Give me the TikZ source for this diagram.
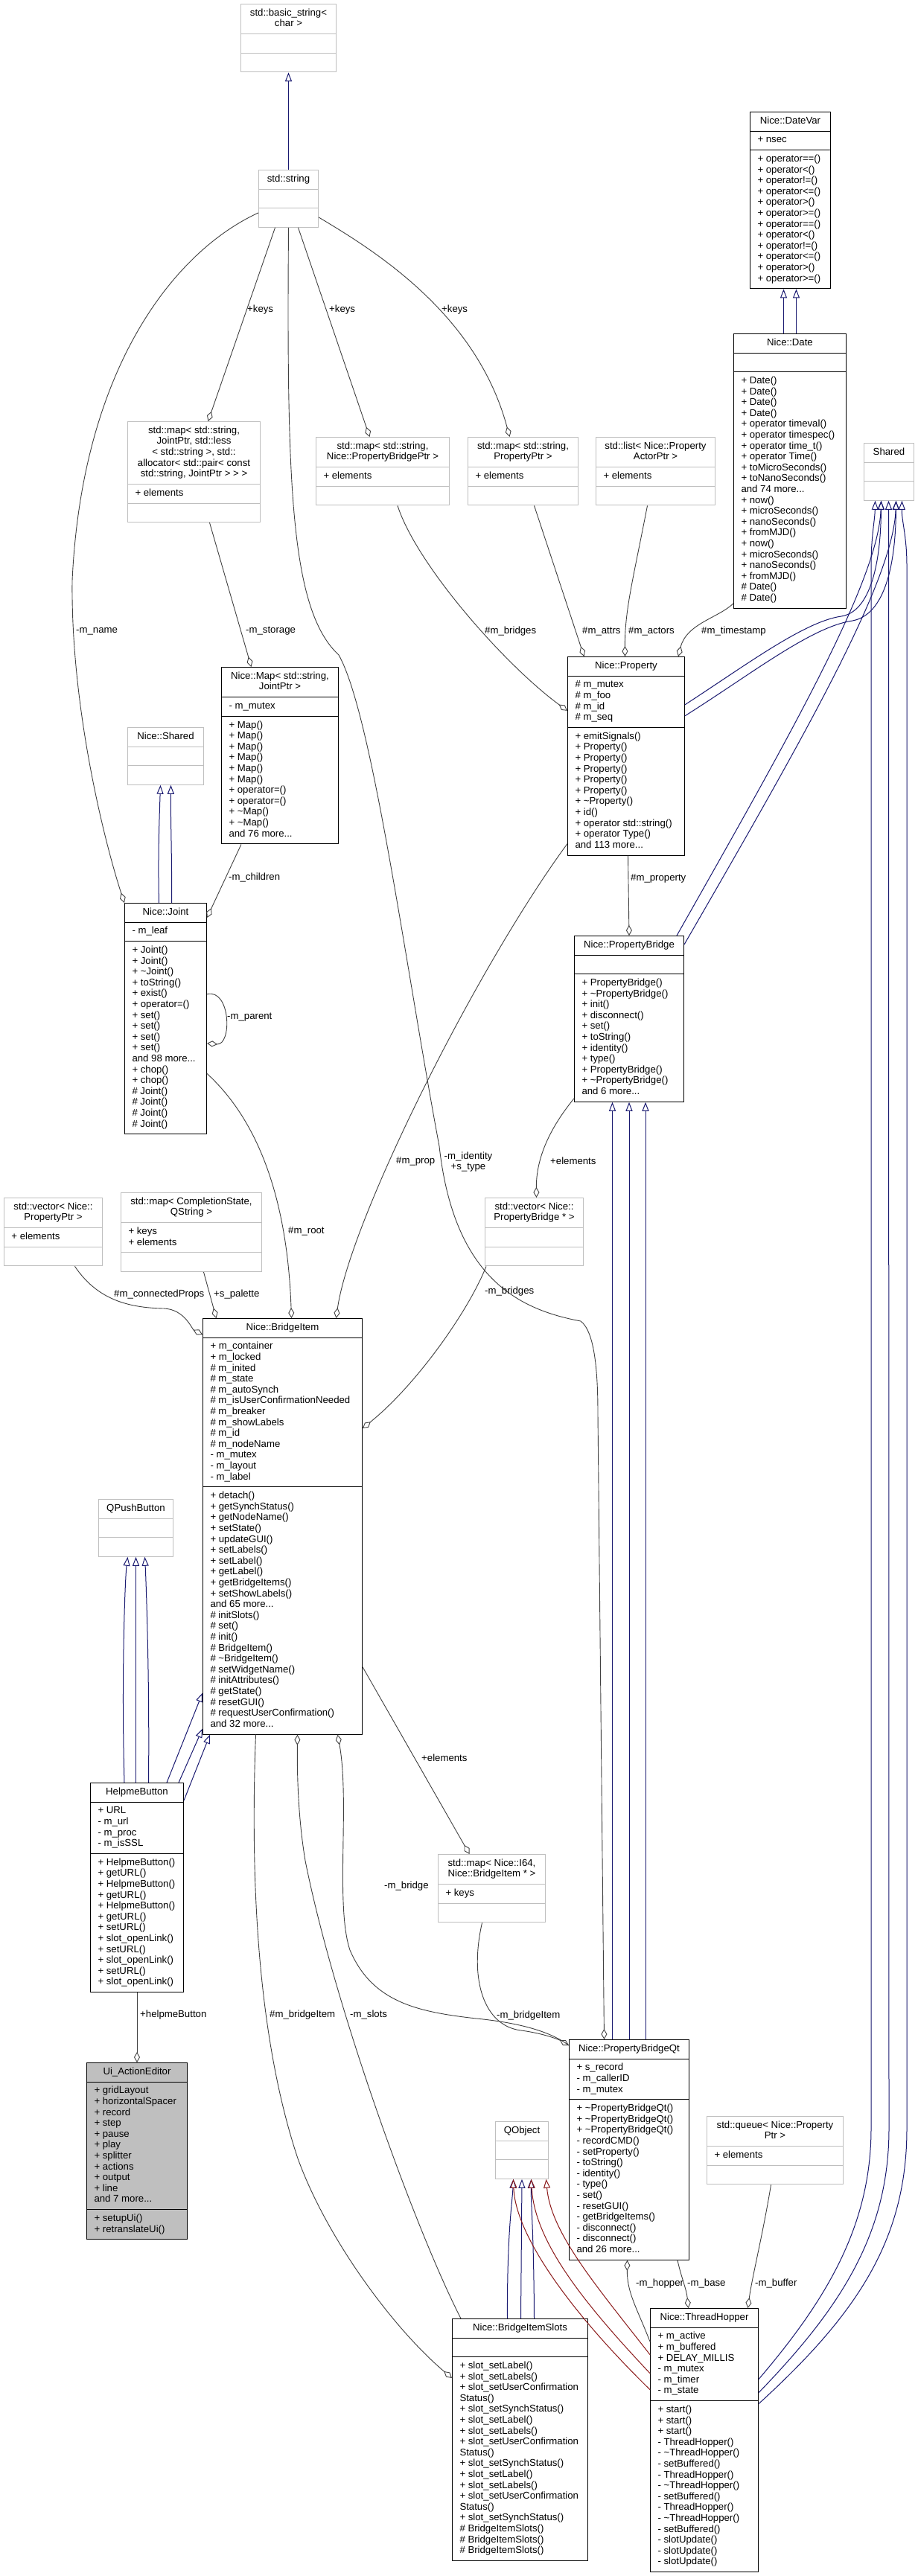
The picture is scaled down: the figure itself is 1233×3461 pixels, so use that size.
\documentclass[tikz,border=0pt]{standalone}
\usepackage{fontspec}
\setmainfont{Liberation Sans}
\usetikzlibrary{arrows.meta,shapes.multipart}
\definecolor{InhBlue}{HTML}{191970}
\definecolor{InhRed}{HTML}{8B1A1A}
\definecolor{UseGray}{HTML}{404040}
\definecolor{ExtGray}{HTML}{BFBFBF}
\newcommand{\cls}[1]{\begin{tabular}{@{}c@{}}#1\end{tabular}}
\newcommand{\mem}[1]{\begin{tabular}{@{}l@{}}#1\end{tabular}}

\begin{document}
\begin{tikzpicture}[
    x=1pt, y=-1pt,
    box/.style={rectangle split, rectangle split parts=3, draw=black, line width=1pt, fill=white,
        anchor=north west, inner xsep=10pt, inner ysep=5pt,
        rectangle split part align={center,left,left},
        rectangle split empty part height=10.22pt, rectangle split empty part depth=4.38pt,
        font=\fontsize{13.2}{14.6}\selectfont},
    ext/.style={box, draw=ExtGray},
    lbl/.style={font=\fontsize{13.2}{14.6}\selectfont, inner sep=0pt, anchor=west},
    inh/.style={draw=InhBlue, line width=1pt, -{Triangle[open, length=12pt, width=9pt]}},
    inhp/.style={inh, draw=InhRed},
    use/.style={draw=UseGray, line width=0.9pt, -{Diamond[open, length=14pt, width=8pt]}}
]
\useasboundingbox (0,0) rectangle (1233,3461);

% classes
\node[ext, minimum width=128pt] (bstr) at (323,5) {\cls{std::basic\_string<\\char >}};
\node[ext, minimum width=80pt] (str) at (347,228) {\cls{std::string}};
\node[box, minimum width=108pt] (datevar) at (1007,150) {\cls{Nice::DateVar}
    \nodepart{two}\mem{+ nsec}
    \nodepart{three}\mem{+ operator==()\\+ operator<()\\+ operator!=()\\+ operator<=()\\+ operator>()\\+ operator>=()\\+ operator==()\\+ operator<()\\+ operator!=()\\+ operator<=()\\+ operator>()\\+ operator>=()}};
\node[box, minimum width=151pt] (date) at (985,448) {\cls{Nice::Date}
    \nodepart{three}\mem{+ Date()\\+ Date()\\+ Date()\\+ Date()\\+ operator timeval()\\+ operator timespec()\\+ operator time\_t()\\+ operator Time()\\+ toMicroSeconds()\\+ toNanoSeconds()\\and 74 more...\\+ now()\\+ microSeconds()\\+ nanoSeconds()\\+ fromMJD()\\+ now()\\+ microSeconds()\\+ nanoSeconds()\\+ fromMJD()\\\# Date()\\\# Date()}};
\node[ext, minimum width=67pt] (shared) at (1160,595) {\cls{Shared}};
\node[ext, minimum width=178pt] (mapjoint) at (171,566) {\cls{std::map< std::string,\\ JointPtr, std::less\\< std::string >, std::\\allocator< std::pair< const\\ std::string, JointPtr > > >}
    \nodepart{two}\mem{+ elements}};
\node[ext, minimum width=179pt] (mappb) at (424,587) {\cls{std::map< std::string,\\ Nice::PropertyBridgePtr >}
    \nodepart{two}\mem{+ elements}};
\node[ext, minimum width=148pt] (mapprop) at (628,587) {\cls{std::map< std::string,\\ PropertyPtr >}
    \nodepart{two}\mem{+ elements}};
\node[ext, minimum width=160pt] (listact) at (800,587) {\cls{std::list< Nice::Property\\ActorPtr >}
    \nodepart{two}\mem{+ elements}};
\node[box, minimum width=157pt] (map) at (297,896) {\cls{Nice::Map< std::string,\\ JointPtr >}
    \nodepart{two}\mem{- m\_mutex}
    \nodepart{three}\mem{+ Map()\\+ Map()\\+ Map()\\+ Map()\\+ Map()\\+ Map()\\+ operator=()\\+ operator=()\\+ \textasciitilde Map()\\+ \textasciitilde Map()\\and 76 more...}};
\node[ext, minimum width=102pt] (nshared) at (171,977) {\cls{Nice::Shared}};
\node[box, minimum width=110pt] (joint) at (167,1213) {\cls{Nice::Joint}
    \nodepart{two}\mem{- m\_leaf}
    \nodepart{three}\mem{+ Joint()\\+ Joint()\\+ \textasciitilde Joint()\\+ toString()\\+ exist()\\+ operator=()\\+ set()\\+ set()\\+ set()\\+ set()\\and 98 more...\\+ chop()\\+ chop()\\\# Joint()\\\# Joint()\\\# Joint()\\\# Joint()}};
\node[box, minimum width=157pt] (prop) at (762,882) {\cls{Nice::Property}
    \nodepart{two}\mem{\# m\_mutex\\\# m\_foo\\\# m\_id\\\# m\_seq}
    \nodepart{three}\mem{+ emitSignals()\\+ Property()\\+ Property()\\+ Property()\\+ Property()\\+ Property()\\+ \textasciitilde Property()\\+ id()\\+ operator std::string()\\+ operator Type()\\and 113 more...}};
\node[box, minimum width=147pt] (pbridge) at (771,1257) {\cls{Nice::PropertyBridge}
    \nodepart{three}\mem{+ PropertyBridge()\\+ \textasciitilde PropertyBridge()\\+ init()\\+ disconnect()\\+ set()\\+ toString()\\+ identity()\\+ type()\\+ PropertyBridge()\\+ \textasciitilde PropertyBridge()\\and 6 more...}};
\node[ext, minimum width=132pt] (vecpb) at (651,1609) {\cls{std::vector< Nice::\\PropertyBridge * >}};
\node[ext, minimum width=132pt] (vecprop) at (5,1609) {\cls{std::vector< Nice::\\PropertyPtr >}
    \nodepart{two}\mem{+ elements}};
\node[ext, minimum width=189pt] (mapcs) at (162,1602) {\cls{std::map< CompletionState,\\ QString >}
    \nodepart{two}\mem{+ keys\\+ elements}};
\node[box, minimum width=214pt] (bitem) at (272,1771) {\cls{Nice::BridgeItem}
    \nodepart{two}\mem{+ m\_container\\+ m\_locked\\\# m\_inited\\\# m\_state\\\# m\_autoSynch\\\# m\_isUserConfirmationNeeded\\\# m\_breaker\\\# m\_showLabels\\\# m\_id\\\# m\_nodeName\\- m\_mutex\\- m\_layout\\- m\_label}
    \nodepart{three}\mem{+ detach()\\+ getSynchStatus()\\+ getNodeName()\\+ setState()\\+ updateGUI()\\+ setLabels()\\+ setLabel()\\+ getLabel()\\+ getBridgeItems()\\+ setShowLabels()\\and 65 more...\\\# initSlots()\\\# set()\\\# init()\\\# BridgeItem()\\\# \textasciitilde BridgeItem()\\\# setWidgetName()\\\# initAttributes()\\\# getState()\\\# resetGUI()\\\# requestUserConfirmation()\\and 32 more...}};
\node[ext, minimum width=100pt] (qpush) at (132,2014) {\cls{QPushButton}};
\node[box, minimum width=125pt] (helpme) at (121,2395) {\cls{HelpmeButton}
    \nodepart{two}\mem{+ URL\\- m\_url\\- m\_proc\\- m\_isSSL}
    \nodepart{three}\mem{+ HelpmeButton()\\+ getURL()\\+ HelpmeButton()\\+ getURL()\\+ HelpmeButton()\\+ getURL()\\+ setURL()\\+ slot\_openLink()\\+ setURL()\\+ slot\_openLink()\\+ setURL()\\+ slot\_openLink()}};
\node[box, fill=ExtGray, minimum width=135pt] (uiae) at (116,2771) {\cls{Ui\_ActionEditor}
    \nodepart{two}\mem{+ gridLayout\\+ horizontalSpacer\\+ record\\+ step\\+ pause\\+ play\\+ splitter\\+ actions\\+ output\\+ line\\and 7 more...}
    \nodepart{three}\mem{+ setupUi()\\+ retranslateUi()}};
\node[ext, minimum width=144pt] (mapbi) at (588,2491) {\cls{std::map< Nice::I64,\\ Nice::BridgeItem * >}
    \nodepart{two}\mem{+ keys}};
\node[box, minimum width=161pt] (pbqt) at (764,2740) {\cls{Nice::PropertyBridgeQt}
    \nodepart{two}\mem{+ s\_record\\- m\_callerID\\- m\_mutex}
    \nodepart{three}\mem{+ \textasciitilde PropertyBridgeQt()\\+ \textasciitilde PropertyBridgeQt()\\+ \textasciitilde PropertyBridgeQt()\\- recordCMD()\\- setProperty()\\- toString()\\- identity()\\- type()\\- set()\\- resetGUI()\\- getBridgeItems()\\- disconnect()\\- disconnect()\\and 26 more...}};
\node[ext, minimum width=183pt] (queue) at (949,2843) {\cls{std::queue< Nice::Property\\Ptr >}
    \nodepart{two}\mem{+ elements}};
\node[ext, minimum width=71pt] (qobject) at (665,2850) {\cls{QObject}};
\node[box, minimum width=182pt] (bislots) at (607,3115) {\cls{Nice::BridgeItemSlots}
    \nodepart{three}\mem{+ slot\_setLabel()\\+ slot\_setLabels()\\+ slot\_setUserConfirmation\\Status()\\+ slot\_setSynchStatus()\\+ slot\_setLabel()\\+ slot\_setLabels()\\+ slot\_setUserConfirmation\\Status()\\+ slot\_setSynchStatus()\\+ slot\_setLabel()\\+ slot\_setLabels()\\+ slot\_setUserConfirmation\\Status()\\+ slot\_setSynchStatus()\\\# BridgeItemSlots()\\\# BridgeItemSlots()\\\# BridgeItemSlots()}};
\node[box, minimum width=145pt] (hopper) at (873,3101) {\cls{Nice::ThreadHopper}
    \nodepart{two}\mem{+ m\_active\\+ m\_buffered\\+ DELAY\_MILLIS\\- m\_mutex\\- m\_timer\\- m\_state}
    \nodepart{three}\mem{+ start()\\+ start()\\+ start()\\- ThreadHopper()\\- \textasciitilde ThreadHopper()\\- setBuffered()\\- ThreadHopper()\\- \textasciitilde ThreadHopper()\\- setBuffered()\\- ThreadHopper()\\- \textasciitilde ThreadHopper()\\- setBuffered()\\- slotUpdate()\\- slotUpdate()\\- slotUpdate()}};

% inheritance
\draw[inh] (str) -- (bstr);
\draw[inh] ([xshift=-8.5pt]date.north) -- ([xshift=-9pt]datevar.south);
\draw[inh] ([xshift=8.5pt]date.north) -- ([xshift=8pt]datevar.south);
\draw[inh] ([xshift=-9pt]joint.north) .. controls (212,1150) and (214,1100) .. ([xshift=-7pt]nshared.south);
\draw[inh] ([xshift=8pt]joint.north) .. controls (231,1150) and (229,1100) .. ([xshift=7pt]nshared.south);
\draw[inh] ([yshift=69pt]prop.east) .. controls (1000,895) and (1080,835) .. (1130,828) .. controls (1168,822) and (1183,760) .. ([xshift=-10.5pt]shared.south);
\draw[inh] ([yshift=54pt]prop.east) .. controls (1010,905) and (1090,842) .. (1145,834) .. controls (1188,826) and (1203,760) .. ([xshift=9.5pt]shared.south);
\draw[inh] ([xshift=-10pt]pbridge.north east) .. controls (1060,990) and (1180,780) .. ([xshift=-10.5pt]shared.south);
\draw[inh] ([yshift=-12pt]pbridge.north east) .. controls (1080,990) and (1200,780) .. ([xshift=9.5pt]shared.south);
\draw[inh] ([yshift=82pt]hopper.east) .. controls (1110,3090) and (1170,2990) .. (1170,2860) -- (1170,760) .. controls (1170,720) and (1175,700) .. ([xshift=-18.5pt]shared.south);
\draw[inh] ([yshift=64pt]hopper.east) .. controls (1130,3100) and (1194,3000) .. (1194,2860) -- ([xshift=-0.5pt]shared.south);
\draw[inh] ([yshift=49pt]hopper.east) .. controls (1150,3110) and (1218,3010) .. (1218,2860) -- (1218,760) .. controls (1218,720) and (1211,700) .. ([xshift=17.5pt]shared.south);
\draw[inh] ([xshift=-22.5pt]pbqt.north) -- ([xshift=-22.5pt]pbridge.south);
\draw[inh] (pbqt.north) -- (pbridge.south);
\draw[inh] ([xshift=22pt]pbqt.north) -- ([xshift=22pt]pbridge.south);
\draw[inh] ([xshift=-17pt]helpme.north) .. controls (163,2250) and (168,2120) .. ([xshift=-11pt]qpush.south);
\draw[inh] ([xshift=-1.5pt]helpme.north) -- (qpush.south);
\draw[inh] ([xshift=15.5pt]helpme.north) .. controls (201,2250) and (196,2120) .. ([xshift=12pt]qpush.south);
\draw[inh] ([xshift=40pt]helpme.north) -- ([yshift=56pt]bitem.south west);
\draw[inh] ([xshift=56pt]helpme.north) -- ([yshift=8pt]bitem.south west);
\draw[inh] ([yshift=-24pt]helpme.north east) -- ([xshift=10pt]bitem.south west);
\draw[inh] ([xshift=-17pt]bislots.north) .. controls (681,3000) and (688,2960) .. ([xshift=-11.5pt]qobject.south);
\draw[inh] ([xshift=1pt]bislots.north) -- (qobject.south);
\draw[inh] ([xshift=19pt]bislots.north) .. controls (717,3000) and (713,2960) .. ([xshift=12.5pt]qobject.south);
\draw[inhp] ([yshift=115pt]hopper.west) .. controls (800,3070) and (740,3000) .. ([xshift=32.5pt]qobject.south);
\draw[inhp] ([yshift=90pt]hopper.west) .. controls (780,3090) and (718,3010) .. ([xshift=12.5pt]qobject.south);
\draw[inhp] ([yshift=68pt]hopper.west) .. controls (760,3100) and (692,3000) .. ([xshift=-11.5pt]qobject.south);

% members
\draw[use] ([yshift=-19pt]str.west) .. controls (230,340) and (110,500) .. (97,780) .. controls (95,950) and (140,1130) .. (joint.north west);
\draw[use] ([xshift=-18pt]str.south) -- ([xshift=19pt]mapjoint.north);
\draw[use] ([xshift=13pt]str.south) -- ([xshift=-17.5pt]mappb.north);
\draw[use] ([yshift=-25pt]str.east) .. controls (500,335) and (640,420) .. ([xshift=-18pt]mapprop.north);
\draw[use] ([xshift=21pt]mapjoint.south) -- ([xshift=-38.5pt]map.north);
\draw[use] ([xshift=-52pt]map.south) -- ([yshift=-20pt]joint.north east);
\draw[use] ([yshift=33pt]joint.east) .. controls (310,1328) and (312,1405) .. ([yshift=-33pt]joint.east);
\draw[use] ([xshift=20pt]mappb.south) .. controls (560,760) and (680,895) .. ([yshift=61pt]prop.west);
\draw[use] ([xshift=15pt]mapprop.south) -- ([xshift=-56.5pt]prop.north);
\draw[use] ([xshift=-11pt]listact.south) .. controls (850,780) and (839,820) .. ([xshift=-1.5pt]prop.north);
\draw[use] ([yshift=7pt]date.south west) .. controls (965,830) and (922,838) .. ([xshift=70pt]prop.north);
\draw[use] ([xshift=2.5pt]prop.south) -- (pbridge.north);
\draw[use] ([yshift=5pt]pbridge.south west) .. controls (735,1520) and (720,1560) .. ([xshift=3pt]vecpb.north);
\draw[use] ([xshift=2pt]vecpb.south west) .. controls (630,1760) and (560,1860) .. ([yshift=-148pt]bitem.north east);
\draw[use] ([xshift=29pt]vecprop.south) .. controls (130,1745) and (170,1757) .. (220,1758) .. controls (248,1759) and (258,1786) .. ([yshift=-22pt]bitem.north west);
\draw[use] ([xshift=16.5pt]mapcs.south) -- ([xshift=-89pt]bitem.north);
\draw[use] ([yshift=82pt]joint.south east) .. controls (330,1490) and (385,1580) .. ([xshift=12pt]bitem.north);
\draw[use] ([yshift=16pt]prop.south west) .. controls (640,1300) and (470,1640) .. ([xshift=72pt]bitem.north);
\draw[use] (str.south) .. controls (385,650) and (390,820) .. (455,880) .. controls (500,960) and (545,1300) .. (590,1540) .. controls (610,1720) and (700,1760) .. (780,1775) .. controls (800,1790) and (803,1850) .. (803,1900) -- ([xshift=-33.5pt]pbqt.north);
\draw[use] ([yshift=91pt]bitem.south east) -- ([xshift=-30pt]mapbi.north);
\draw[use] ([xshift=-13pt]mapbi.south) .. controls (630,2660) and (650,2722) .. (700,2728) .. controls (730,2732) and (750,2740) .. ([yshift=-8pt]pbqt.north west);
\draw[use] ([yshift=-8pt]pbqt.north west) .. controls (740,2730) and (700,2718) .. (640,2712) .. controls (560,2703) and (500,2690) .. (470,2620) .. controls (450,2560) and (470,2420) .. ([xshift=74pt]bitem.south);
\draw[use] ([xshift=-36pt]bitem.south) .. controls (335,2550) and (350,2750) .. (400,2900) .. controls (440,3010) and (530,3130) .. ([yshift=-80pt]bislots.north west);
\draw[use] ([xshift=12pt]bislots.north west) .. controls (560,3000) and (450,2700) .. (410,2500) .. controls (400,2440) and (399,2380) .. ([xshift=20pt]bitem.south);
\draw[use] (helpme) -- (uiae);
\draw[use] ([yshift=-45pt]hopper.north west) .. controls (855,3100) and (842,3080) .. ([xshift=-2.5pt]pbqt.south);
\draw[use] ([xshift=-16pt]pbqt.south east) .. controls (915,3060) and (922,3075) .. ([xshift=-21.5pt]hopper.north);
\draw[use] ([xshift=-5.5pt]queue.south) .. controls (1025,3000) and (1010,3060) .. ([xshift=58.5pt]hopper.north);

% member labels
\node[lbl] (lname) at (102,848) {-m\_name};
\node[lbl] (lkeysa) at (332,416) {+keys};
\node[lbl] (lkeysb) at (442,416) {+keys};
\node[lbl] (lkeysc) at (593,416) {+keys};
\node[lbl] (lstorage) at (330,848) {-m\_storage};
\node[lbl] (lchildren) at (307,1179) {-m\_children};
\node[lbl] (lparent) at (305,1367) {-m\_parent};
\node[lbl] (lbridges) at (651,848) {\#m\_bridges};
\node[lbl] (lattrs) at (782,848) {\#m\_attrs};
\node[lbl] (lactors) at (844,848) {\#m\_actors};
\node[lbl] (lstamp) at (942,848) {\#m\_timestamp};
\node[lbl] (lproperty) at (847,1180) {\#m\_property};
\node[lbl, anchor=center, align=center] (lidentity) at (629,1561) {-m\_identity\\+s\_type};
\node[lbl] (lelemvec) at (739,1560) {+elements};
\node[lbl] (lprop) at (532,1560) {\#m\_prop};
\node[lbl] (lroot) at (387,1654) {\#m\_root};
\node[lbl] (lconnected) at (153,1739) {\#m\_connectedProps};
\node[lbl] (lpalette) at (287,1739) {+s\_palette};
\node[lbl] (lbridgesb) at (651,1735) {-m\_bridges};
\node[lbl] (lelemmap) at (566,2362) {+elements};
\node[lbl] (lbridge) at (516,2534) {-m\_bridge};
\node[lbl] (lhelpme) at (188,2707) {+helpmeButton};
\node[lbl] (litema) at (362,2707) {\#m\_bridgeItem};
\node[lbl] (lslots) at (470,2707) {-m\_slots};
\node[lbl] (litemb) at (667,2708) {-m\_bridgeItem};
\node[lbl] (lhopper) at (854,3068) {-m\_hopper};
\node[lbl] (lbase) at (923,3068) {-m\_base};
\node[lbl] (lbuffer) at (1014,3068) {-m\_buffer};
\end{tikzpicture}
\end{document}
